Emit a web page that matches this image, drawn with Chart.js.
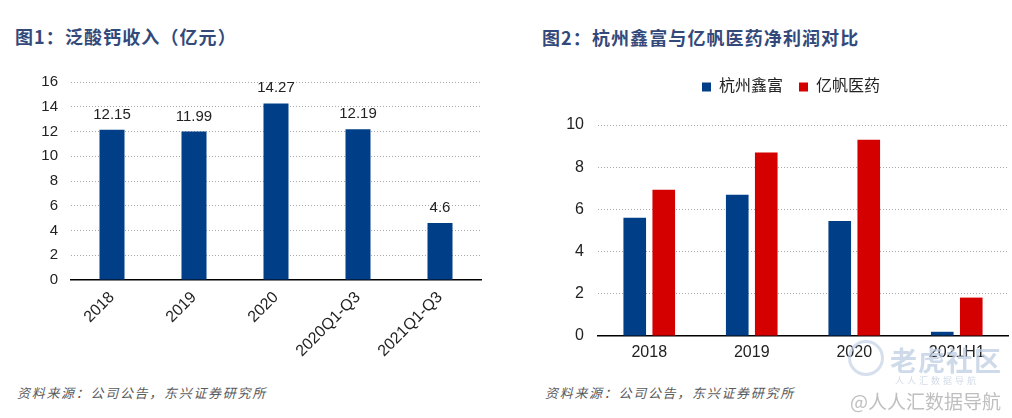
<!DOCTYPE html>
<html>
<head>
<meta charset="utf-8">
<script src="https://cdn.jsdelivr.net/npm/chart.js@4/dist/chart.umd.min.js"></script>
<style>
  html, body { margin:0; padding:0; }
  body { width:1012px; height:418px; overflow:hidden; background:#fff; position:relative;
         font-family:"Liberation Sans","Noto Sans CJK SC",sans-serif; }
  .title { position:absolute; font-family:"Noto Sans CJK SC",sans-serif; font-weight:bold;
           font-size:18px; line-height:18px; letter-spacing:1.1px; color:#33497a; white-space:nowrap; }
  .foot { position:absolute; font-family:"Noto Sans CJK SC",sans-serif; font-style:italic;
          font-size:13px; line-height:13px; letter-spacing:1.7px; color:#5a5a5a; white-space:nowrap; }
  .box { position:absolute; }
  .wm1 { position:absolute; font-family:"Noto Sans CJK SC",sans-serif; font-weight:bold; font-size:27px;
         line-height:27px; color:rgba(190,205,225,0.75); white-space:nowrap; letter-spacing:1px; }
  .wm2 { position:absolute; font-family:"Noto Sans CJK SC",sans-serif; font-size:19px; line-height:19px;
         color:rgba(180,180,180,0.85); white-space:nowrap; }
  .wm3 { position:absolute; font-family:"Noto Sans CJK SC",sans-serif; font-size:9px; line-height:9px;
         color:rgba(200,210,225,0.8); white-space:nowrap; letter-spacing:3px; }
  .wmc { position:absolute; width:30px; height:30px; border-radius:50%; border:3px solid rgba(195,210,230,0.7); }
</style>
</head>
<body>
<div class="title" style="left:15px;top:27px;">图1：泛酸钙收入（亿元）</div>
<div class="title" style="left:542px;top:28px;">图2：杭州鑫富与亿帆医药净利润对比</div>

<div class="box" style="left:0px;top:60px;width:500px;height:320px;"><canvas id="c1"></canvas></div>
<div class="box" style="left:530px;top:60px;width:516px;height:320px;"><canvas id="c2"></canvas></div>

<div class="foot" style="left:17px;top:386px;">资料来源：公司公告，东兴证券研究所</div>
<div class="foot" style="left:545px;top:386px;">资料来源：公司公告，东兴证券研究所</div>

<div class="wmc" style="left:848px;top:340px;"></div>
<div class="wm1" style="left:890px;top:346px;">老虎社区</div>
<div class="wm3" style="left:895px;top:376px;">人人汇数据导航</div>
<div class="wm2" style="left:850px;top:391px;">@人人汇数据导航</div>

<script>
// ---- Data: Figure 1 ----
const categories1 = ['2018', '2019', '2020', '2020Q1-Q3', '2021Q1-Q3'];
const revenue1 = [12.15, 11.99, 14.27, 12.19, 4.6];
const yMin1 = 0, yMax1 = 16, yStep1 = 2;

// ---- Data: Figure 2 ----
const categories2 = ['2018', '2019', '2020', '2021H1'];
const seriesNames2 = ['杭州鑫富', '亿帆医药'];
const xinfuProfit = [5.6, 6.7, 5.45, 0.2];
const yifanProfit = [6.93, 8.7, 9.3, 1.82];
const yMin2 = 0, yMax2 = 10, yStep2 = 2;

const BLUE = '#003f87';
const RED = '#d40000';
const FONT = '"Liberation Sans","Noto Sans CJK SC",sans-serif';

const valueLabels = {
  id: 'valueLabels',
  afterDatasetsDraw(chart, args, opts) {
    if (!opts || !opts.show) return;
    const ctx = chart.ctx;
    ctx.save();
    ctx.font = '15px ' + FONT;
    ctx.fillStyle = '#222';
    ctx.textAlign = 'center';
    ctx.textBaseline = 'alphabetic';
    chart.data.datasets.forEach((ds, di) => {
      chart.getDatasetMeta(di).data.forEach((el, i) => {
        ctx.fillText(String(ds.data[i]), el.x, el.y - 11);
      });
    });
    ctx.restore();
  }
};

// shifts the legend block to the right so it sits where the reference places it
const legendShift = {
  id: 'legendShift',
  afterLayout(chart) {
    if (chart.legend) { chart.legend.left += 44; }
  }
};

const gridColor = (c) => (c.tick && c.tick.value === 0) ? 'rgba(0,0,0,0)' : '#a8a8a8';

new Chart(document.getElementById('c1'), {
  type: 'bar',
  data: {
    labels: categories1,
    datasets: [{ label: '泛酸钙收入', data: revenue1, backgroundColor: BLUE,
                 categoryPercentage: 1.0, barPercentage: 0.305 }]
  },
  options: {
    responsive: true, maintainAspectRatio: false, animation: false,
    layout: { padding: { top: 22, right: 19, left: 0, bottom: 0 } },
    plugins: { legend: { display: false }, tooltip: { enabled: false }, valueLabels: { show: true } },
    scales: {
      x: {
        grid: { display: false, drawTicks: false },
        border: { display: true, color: '#000', width: 1.5 },
        ticks: { color: '#222', font: { size: 16, family: FONT }, minRotation: 45, maxRotation: 45, padding: 8, autoSkip: false },
        afterFit: (s) => { s.height = 100; }
      },
      y: {
        min: yMin1, max: yMax1,
        grid: { color: gridColor, lineWidth: 1, drawTicks: false },
        border: { display: false, dash: [1, 2] },
        ticks: { stepSize: yStep1, color: '#222', font: { size: 15, family: FONT }, padding: 13 },
        afterFit: (s) => { s.width = 71; }
      }
    }
  },
  plugins: [valueLabels]
});

new Chart(document.getElementById('c2'), {
  type: 'bar',
  data: {
    labels: categories2,
    datasets: [
      { label: seriesNames2[0], data: xinfuProfit, backgroundColor: BLUE, categoryPercentage: 0.566, barPercentage: 0.78 },
      { label: seriesNames2[1], data: yifanProfit, backgroundColor: RED, categoryPercentage: 0.566, barPercentage: 0.78 }
    ]
  },
  options: {
    responsive: true, maintainAspectRatio: false, animation: false,
    layout: { padding: { top: 3, right: 38, left: 0, bottom: 14 } },
    plugins: {
      tooltip: { enabled: false },
      legend: {
        display: true, position: 'top', weight: 3000,
        labels: { boxWidth: 9, boxHeight: 9, padding: 16, color: '#222', font: { size: 16, family: FONT } }
      },
      title: { display: true, text: '', weight: 2000, font: { size: 10 }, padding: { top: 0, bottom: 8 } }
    },
    scales: {
      x: {
        grid: { display: false, drawTicks: false },
        border: { display: true, color: '#000', width: 1.5 },
        ticks: { color: '#222', font: { size: 16, family: FONT }, padding: 7, maxRotation: 0, autoSkip: false },
        afterFit: (s) => { s.height = 30; }
      },
      y: {
        min: yMin2, max: yMax2,
        grid: { color: gridColor, lineWidth: 1, drawTicks: false },
        border: { display: false, dash: [1, 2] },
        ticks: { stepSize: yStep2, color: '#222', font: { size: 16, family: FONT }, padding: 14 },
        afterFit: (s) => { s.width = 68; }
      }
    }
  },
  plugins: [legendShift]
});
</script>
</body>
</html>
